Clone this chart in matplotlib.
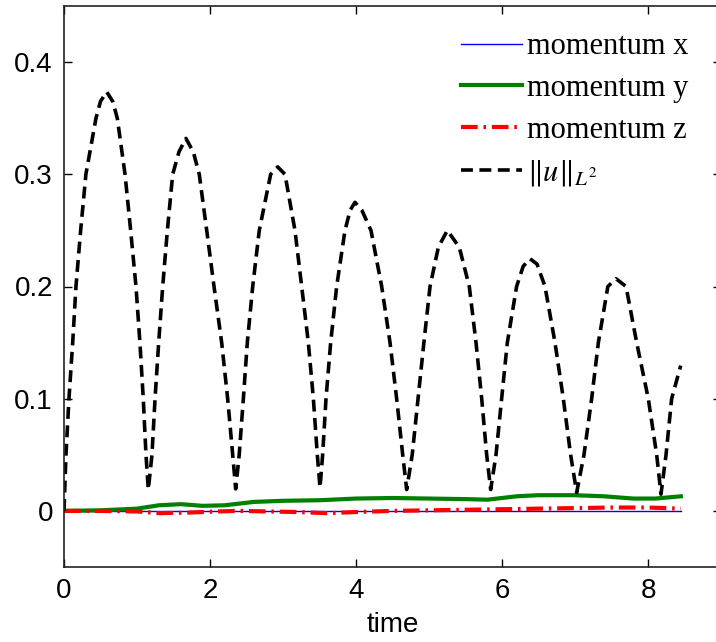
import numpy as np
import matplotlib
matplotlib.use('Agg')
import matplotlib.pyplot as plt

plt.rcParams['font.family'] = 'Liberation Sans'
plt.rcParams['mathtext.fontset'] = 'stix'

# ||u||_L2
t_u = [0.0, 0.027, 0.068, 0.119, 0.164, 0.228, 0.30, 0.438, 0.50, 0.585, 0.667, 0.73, 0.836, 0.913, 0.986, 1.04, 1.086, 1.123, 1.155,
       1.205, 1.247, 1.297, 1.352, 1.416, 1.489, 1.575, 1.67, 1.771, 1.853, 1.955, 2.055, 2.16, 2.242, 2.311, 2.352,
       2.40, 2.457, 2.511, 2.585, 2.675, 2.831, 2.927, 3.027, 3.164, 3.256, 3.347, 3.416, 3.47, 3.507,
       3.543, 3.589, 3.653, 3.735, 3.849, 3.92, 3.986, 4.08, 4.205, 4.352, 4.466, 4.557, 4.64, 4.694,
       4.77, 4.85, 4.93, 5.014, 5.128, 5.251, 5.415, 5.552, 5.644, 5.722, 5.79, 5.845,
       5.918, 5.995, 6.073, 6.2, 6.29, 6.384, 6.48, 6.589, 6.726, 6.84, 6.94, 7.023,
       7.123, 7.228, 7.32, 7.45, 7.562, 7.699, 7.845, 8.004, 8.119, 8.178,
       8.247, 8.324, 8.448]
u_norm = [0.0, 0.05, 0.10, 0.15, 0.20, 0.25, 0.30, 0.35, 0.365, 0.3735, 0.365, 0.35, 0.30, 0.25, 0.20, 0.15, 0.10, 0.05, 0.019,
          0.05, 0.10, 0.15, 0.20, 0.25, 0.30, 0.32, 0.332, 0.32, 0.30, 0.25, 0.20, 0.15, 0.10, 0.05, 0.0196,
          0.05, 0.10, 0.15, 0.20, 0.25, 0.30, 0.3066, 0.30, 0.25, 0.20, 0.15, 0.10, 0.05, 0.0208,
          0.05, 0.10, 0.15, 0.20, 0.25, 0.268, 0.275, 0.268, 0.25, 0.20, 0.15, 0.10, 0.05, 0.019,
          0.05, 0.10, 0.15, 0.20, 0.235, 0.25, 0.235, 0.20, 0.15, 0.10, 0.05, 0.019,
          0.05, 0.10, 0.15, 0.20, 0.218, 0.2247, 0.22, 0.20, 0.15, 0.10, 0.05, 0.0164,
          0.05, 0.10, 0.15, 0.20, 0.2069, 0.20, 0.15, 0.10, 0.05, 0.0149,
          0.05, 0.10, 0.1295]

# momentum components
t_mx = [0.0, 2.0, 4.0, 6.0, 8.45]
mom_x = [0.0, 0.0, 0.0, 0.0, 0.0]

t_my = [0.0, 0.5, 1.0, 1.3, 1.6, 1.9, 2.2, 2.6, 3.0, 3.5, 4.0, 4.5, 5.0, 5.5, 5.8, 6.2, 6.5, 7.0, 7.4, 7.8, 8.1, 8.45]
mom_y = [0.0, 0.0005, 0.002, 0.005, 0.006, 0.0045, 0.005, 0.008, 0.009, 0.0095, 0.011, 0.0115, 0.011, 0.0105, 0.010,
         0.013, 0.014, 0.014, 0.013, 0.011, 0.011, 0.013]

t_mz = [0.0, 0.5, 1.0, 1.3, 1.7, 2.1, 2.4, 2.8, 3.2, 3.6, 4.0, 4.5, 5.0, 5.5, 6.0, 6.5, 7.0, 7.5, 8.0, 8.45]
mom_z = [0.0, 0.0, -0.0005, -0.002, -0.0015, -0.0005, 0.0, -0.0005, -0.001, -0.002, -0.001, 0.0, 0.0005, 0.001,
         0.0015, 0.002, 0.0025, 0.003, 0.003, 0.002]

x_ticks = [0, 2, 4, 6, 8]
y_ticks = [0, 0.1, 0.2, 0.3, 0.4]
y_ticklabels = ['0', '0.1', '0.2', '0.3', '0.4']

fig = plt.figure(figsize=(7.16, 6.42), dpi=100)
ax = fig.add_axes([64/716, 75/642, 657/716, 561/642])

l1, = ax.plot(t_mx, mom_x, color='#0000ff', lw=1.0)
l2, = ax.plot(t_my, mom_y, color='#008000', lw=3.0)
l3, = ax.plot(t_mz, mom_z, color='#ff0000', lw=3.0, linestyle=(0, (4.0, 1.4, 0.6, 1.4)))
l4, = ax.plot(t_u, u_norm, color='black', lw=2.6, linestyle=(0, (3.3, 1.8)))

ax.set_xlim(0, 9)
ax.set_ylim(-0.05, 0.45)
ax.set_xticks(x_ticks)
ax.set_yticks(y_ticks)
ax.set_yticklabels(y_ticklabels)
ax.xaxis.set_ticks_position('both')
ax.yaxis.set_ticks_position('both')
ax.tick_params(direction='in', length=6, width=1.0, labelsize=20, pad=8)
for axis in ['top', 'bottom', 'left']:
    ax.spines[axis].set_linewidth(1.2)
    ax.spines[axis].set_color('#222222')
ax.spines['right'].set_visible(False)
ax.set_xlabel('time', fontsize=20, labelpad=6)

leg = ax.legend([l1, l2, l3, l4], ['momentum x', 'momentum y', 'momentum z', r'$\|u\|_{L^2}$'],
                loc='upper left', bbox_to_anchor=(446/716, 1 - 17/642), bbox_transform=fig.transFigure,
                frameon=False, borderpad=0, handlelength=2.0, handletextpad=0.15, labelspacing=0.42,
                prop={'family': 'Liberation Serif', 'size': 22})

fig.savefig('out.png', dpi=100)
